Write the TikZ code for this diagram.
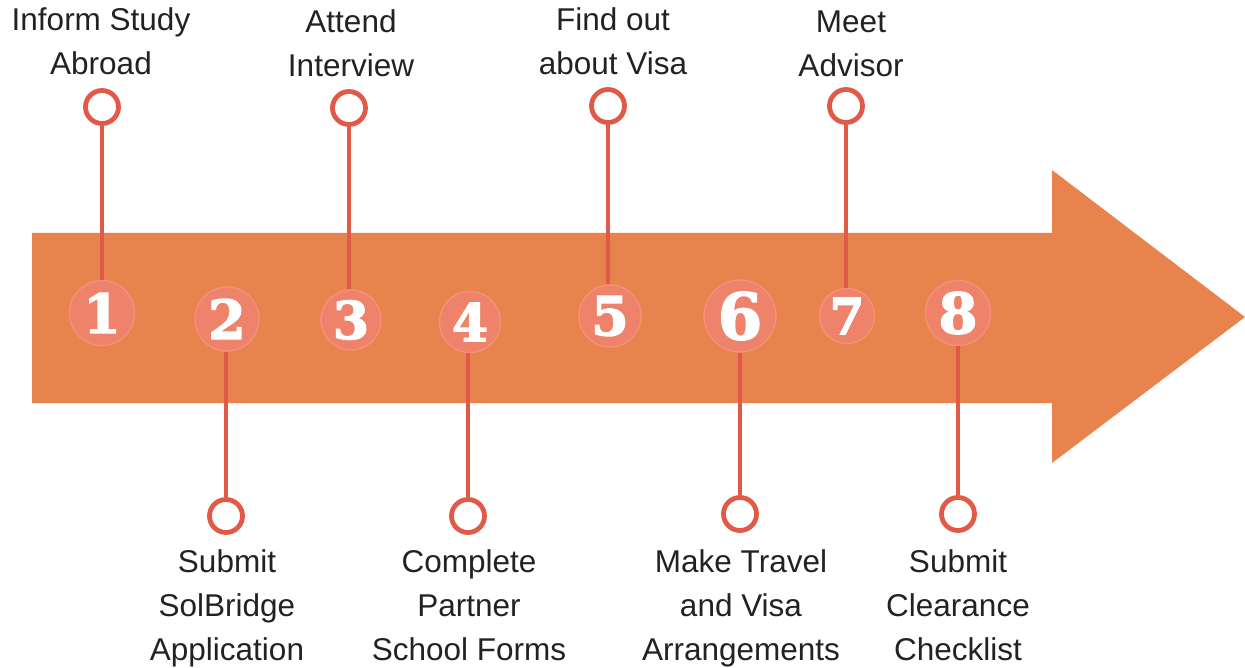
\documentclass[tikz,border=0pt]{standalone}
\usepackage{fontspec}
\setmainfont{Liberation Sans}
\newfontfamily\numfont[BoldFeatures={FakeBold=2.5}]{DejaVu Serif}
\definecolor{arrowc}{RGB}{232,131,78}
\definecolor{numfill}{RGB}{238,130,107}
\definecolor{ringc}{RGB}{242,145,118}
\definecolor{stemc}{RGB}{224,90,71}
\definecolor{txtc}{RGB}{34,34,34}
\tikzset{
  numc/.style={circle, fill=numfill, draw=ringc, line width=1.5pt, inner sep=0pt, text=white},
  dotc/.style={circle, draw=stemc, line width=4.8pt, fill=white, minimum size=33pt, inner sep=0pt},
  stem/.style={draw=stemc, line width=4.5pt},
  lbl/.style={align=center, text=txtc, font=\fontsize{31.5}{44}\selectfont, inner sep=0pt, anchor=base}
}
\begin{document}
\begin{tikzpicture}[x=1pt,y=-1pt]
\useasboundingbox (0,0) rectangle (1245,668);
\fill[arrowc] (32,233) -- (1052,233) -- (1052,170) -- (1245,317) -- (1052,463) -- (1052,403) -- (32,403) -- cycle;
% top small circles
\node[dotc] (s1) at (102,107) {};
\node[dotc] (s3) at (349,108) {};
\node[dotc] (s5) at (608,106) {};
\node[dotc] (s7) at (846,106) {};
% bottom small circles
\node[dotc] (s2) at (226,516) {};
\node[dotc] (s4) at (468,516) {};
\node[dotc] (s6) at (740,514) {};
\node[dotc] (s8) at (958,514) {};
% number circles
\node[numc, minimum size=65pt, font=\numfont\bfseries\fontsize{54}{54}\selectfont] (n1) at (102,313) {1};
\node[numc, minimum size=64pt, font=\numfont\bfseries\fontsize{54}{54}\selectfont] (n2) at (227,319) {2};
\node[numc, minimum size=60pt, font=\numfont\bfseries\fontsize{52}{52}\selectfont] (n3) at (351,320) {3};
\node[numc, minimum size=61pt, font=\numfont\bfseries\fontsize{52}{52}\selectfont] (n4) at (470,322) {4};
\node[numc, minimum size=62pt, font=\numfont\bfseries\fontsize{54}{54}\selectfont] (n5) at (610,316) {5};
\node[numc, minimum size=72pt, font=\numfont\bfseries\fontsize{64}{64}\selectfont] (n6) at (740,316) {6};
\node[numc, minimum size=55pt, font=\numfont\bfseries\fontsize{50}{50}\selectfont] (n7) at (847,316) {7};
\node[numc, minimum size=65pt, font=\numfont\bfseries\fontsize{56}{56}\selectfont] (n8) at (958,313) {8};
% stems
\draw[stem] (s1.south) -- (s1 |- n1.north);
\draw[stem] (s3.south) -- (s3 |- n3.north);
\draw[stem] (s5.south) -- (s5 |- n5.north);
\draw[stem] (s7.south) -- (s7 |- n7.north);
\draw[stem] (s2.north) -- (s2 |- n2.south);
\draw[stem] (s4.north) -- (s4 |- n4.south);
\draw[stem] (s6.north) -- (s6 |- n6.south);
\draw[stem] (s8.north) -- (s8 |- n8.south);
% labels (anchor = baseline of last line)
\node[lbl] (t1) at (101,75) {Inform Study\\Abroad};
\node[lbl] (t3) at (351,77) {Attend\\Interview};
\node[lbl] (t5) at (613,75) {Find out\\about Visa};
\node[lbl] (t7) at (851,77) {Meet\\Advisor};
\node[lbl] (t2) at (227,660) {Submit\\SolBridge\\Application};
\node[lbl] (t4) at (469,660) {Complete\\Partner\\School Forms};
\node[lbl] (t6) at (741,660) {Make Travel\\and Visa\\Arrangements};
\node[lbl] (t8) at (958,660) {Submit\\Clearance\\Checklist};
\end{tikzpicture}
\end{document}
